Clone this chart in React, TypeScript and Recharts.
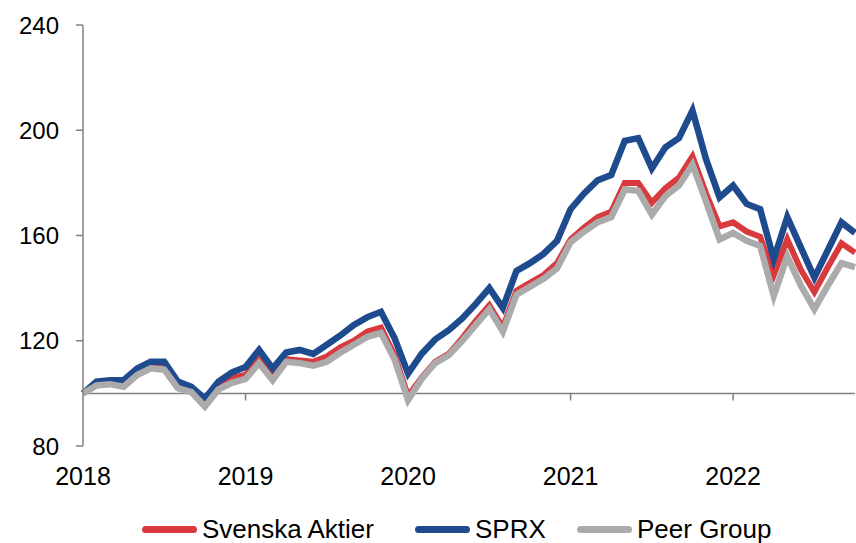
import React from 'react';
import { LineChart, Line, XAxis, YAxis, ReferenceLine, Legend } from 'recharts';

const yearLabels = ['2018', '2019', '2020', '2021', '2022'];
const yearTicks = [0, 12, 24, 36, 48];
const yTicks = [80, 120, 160, 200, 240];

const svenskaAktier = [
  100, 103.5, 104, 103.5, 108, 110.5, 110.5, 103, 101.5, 96.5, 102.5, 106,
  107, 113, 106, 113, 112.5, 112, 114, 117.5, 120, 123.5, 125, 114.5,
  99, 106, 112, 115, 121, 127.5, 133.5, 125, 139, 142, 145, 149.5,
  158.5, 163, 167, 169, 180, 180, 172.5, 178, 182, 190, 176, 163.5,
  165, 161.5, 159.5, 145, 158.5, 147, 138.5, 148, 157, 153.5,
];

const sprx = [
  100, 104.5, 105, 105, 109.5, 112, 112, 104.5, 102.5, 98, 104.5, 108,
  110, 116.5, 109.5, 115.5, 116.5, 115, 118.5, 122, 126, 129, 131, 121,
  107.5, 115, 120.5, 124, 128.5, 134, 140, 132.5, 146.5, 149.5, 153, 158,
  170, 176, 181, 183, 196, 197, 185.5, 193.5, 197, 207.5, 189, 174.5,
  179, 172, 170, 151, 167, 155.5, 144, 154.5, 165, 161,
];

const peerGroup = [
  100, 103, 103.5, 102.5, 107, 109.5, 109, 102, 100.5, 95, 101.5, 104,
  105.5, 111.5, 105, 112, 111.5, 110.5, 112, 115.5, 118.5, 121.5, 123, 113,
  97.5, 105.5, 111.5, 114.5, 120, 126, 132, 123.5, 137.5, 140.5, 143.5, 147.5,
  157.5, 161.5, 165, 167, 177.5, 177, 168, 175, 179, 187, 173, 158.5,
  161, 158, 156, 137, 152, 141, 132, 141, 149.5, 148,
];

const data = sprx.map((_, i) => ({
  i,
  svenska: svenskaAktier[i],
  sprx: sprx[i],
  peer: peerGroup[i],
}));

const RED = '#D93A3E';
const BLUE = '#1E4A8E';
const GRAY = '#ABABAB';
const AXIS = '#808080';
const FONT = '"Liberation Sans", Arial, sans-serif';

const legendItems = [
  { name: 'Svenska Aktier', color: RED, width: 273 },
  { name: 'SPRX', color: BLUE, width: 162 },
  { name: 'Peer Group', color: GRAY, width: 220 },
];

const renderLegend = () => (
  <div
    style={{
      display: 'flex',
      paddingLeft: 142,
      fontFamily: FONT,
      fontSize: 26,
      color: '#000',
      lineHeight: '26px',
      height: 26,
    }}
  >
    {legendItems.map((it) => (
      <div key={it.name} style={{ display: 'flex', alignItems: 'center', width: it.width, height: 26 }}>
        <span
          style={{
            display: 'inline-block',
            width: 55,
            height: 7,
            borderRadius: 3.5,
            background: it.color,
            marginRight: 5,
          }}
        />
        <span>{it.name}</span>
      </div>
    ))}
  </div>
);

export default function App() {
  return (
    <div style={{ position: 'absolute', left: 0, top: 0, width: 856, height: 543, background: '#fff', overflow: 'hidden' }}>
      <LineChart width={856} height={543} data={data} margin={{ top: 25, right: 1, bottom: 57, left: 0 }}>
        <XAxis
          dataKey="i"
          type="number"
          domain={[0, 57]}
          ticks={yearTicks}
          interval={0}
          tickFormatter={(v: number) => yearLabels[yearTicks.indexOf(v)] ?? ''}
          axisLine={false}
          tickLine={false}
          tickSize={6}
          tickMargin={15}
          height={40}
          tick={{ fontSize: 25, fill: '#000', fontFamily: FONT }}
        />
        <YAxis
          domain={[80, 240]}
          ticks={yTicks}
          interval={0}
          width={83}
          axisLine={{ stroke: AXIS, strokeWidth: 1.5 }}
          tickLine={{ stroke: AXIS, strokeWidth: 1.5 }}
          tickSize={7}
          tickMargin={17}
          tick={{ fontSize: 24, fill: '#000', fontFamily: FONT }}
        />
        <ReferenceLine y={100} stroke={AXIS} strokeWidth={1.5} />
        {yearTicks.slice(1).map((t) => (
          <ReferenceLine
            key={t}
            segment={[
              { x: t, y: 100 },
              { x: t, y: 97.3 },
            ]}
            stroke={AXIS}
            strokeWidth={1.5}
          />
        ))}
        <Line
          type="linear"
          dataKey="svenska"
          name="Svenska Aktier"
          stroke={RED}
          strokeWidth={6}
          dot={false}
          isAnimationActive={false}
          strokeLinejoin="miter"
        />
        <Line
          type="linear"
          dataKey="sprx"
          name="SPRX"
          stroke={BLUE}
          strokeWidth={6.5}
          dot={false}
          isAnimationActive={false}
          strokeLinejoin="miter"
        />
        <Line
          type="linear"
          dataKey="peer"
          name="Peer Group"
          stroke={GRAY}
          strokeWidth={6.5}
          dot={false}
          isAnimationActive={false}
          strokeLinejoin="miter"
        />
        <Legend
          layout="horizontal"
          verticalAlign="middle"
          align="center"
          content={renderLegend}
          wrapperStyle={{ top: 516, left: 0, width: 856, margin: 0, padding: 0 }}
        />
      </LineChart>
    </div>
  );
}
